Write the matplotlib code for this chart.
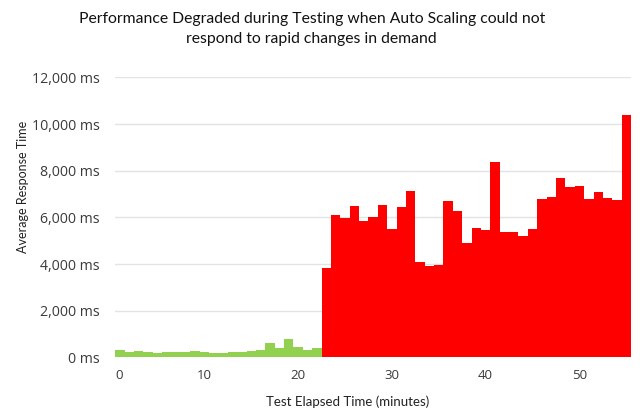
import numpy as np
import matplotlib.pyplot as plt

plt.rcParams['font.family'] = ['Lato', 'DejaVu Sans']

# minutes 1..55, response time per minute (ms)
minutes = list(range(1, 56))
ok_ms = [330, 210, 260, 220, 190, 230, 220, 210, 260, 220, 190,
         200, 230, 220, 260, 330, 620, 400, 770, 450, 310, 400]
slow_ms = [3830, 6100, 5970, 6470, 5840, 6020, 6550, 5510, 6440, 7110,
           4100, 3920, 3940, 6700, 6270, 4890, 5560, 5450, 8380, 5390,
           5380, 5180, 5480, 6800, 6880, 7690, 7290, 7340, 6770, 7100,
           6810, 6730, 10380]
y_ticks = [0, 2000, 4000, 6000, 8000, 10000, 12000]
x_ticks = [0, 10, 20, 30, 40, 50]

n_ok = len(ok_ms)

fig = plt.figure(figsize=(6.4, 4.18), dpi=100)
ax = fig.add_axes([0.180, 0.145, 0.806, 0.670])

ax.bar(minutes[:n_ok], ok_ms, width=1.0, color='#92d050', linewidth=0, zorder=2)
ax.bar(minutes[n_ok:], slow_ms, width=1.0, color='#ff0000', linewidth=0, zorder=2)

ax.set_xlim(0.5, 55.5)
ax.set_ylim(0, 12000)
ax.set_yticks(y_ticks)
ax.set_yticklabels([f'{v:,} ms' for v in y_ticks], fontfamily=['Open Sans', 'DejaVu Sans'])
# first label sits at the left edge of the plot
ax.set_xticks([0.9] + x_ticks[1:])
ax.set_xticklabels([str(v) for v in x_ticks], fontfamily=['Open Sans', 'DejaVu Sans'])

ax.grid(axis='y', color='#e3e3e3', linewidth=1, zorder=0)
for s in ax.spines.values():
    s.set_visible(False)
ax.tick_params(axis='both', length=0, colors='#3a3a3a')
ax.tick_params(axis='y', pad=11, labelsize=10.2)
ax.tick_params(axis='x', pad=8, labelsize=9.5)

ax.set_ylabel('Average Response Time', fontsize=9, color='#222222')
ax.yaxis.set_label_coords(-0.168, 0.61)
ax.set_xlabel('Test Elapsed Time (minutes)', fontsize=9.5, color='#222222', labelpad=10, x=0.45)

fig.text(0.487, 0.972, 'Performance Degraded during Testing when Auto Scaling could not\nrespond to rapid changes in demand',
         ha='center', va='top', fontsize=11.3, color='#111111', linespacing=1.55)

plt.savefig('out.png', dpi=100)
